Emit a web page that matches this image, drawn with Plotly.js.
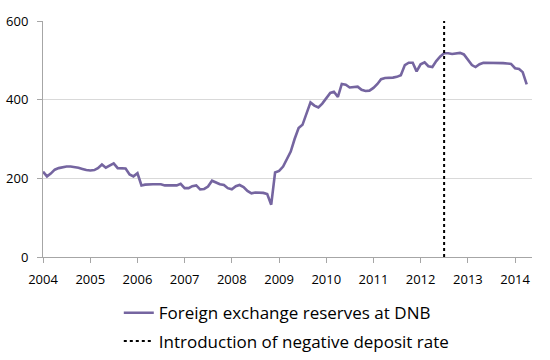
<!DOCTYPE html>
<html>
<head>
<meta charset="utf-8">
<script src="https://cdn.plot.ly/plotly-3.0.1.min.js"></script>
<style>html,body{margin:0;padding:0;background:#fff}#chart{width:550px;height:360px}</style>
</head>
<body>
<div id="chart"></div>
<script>
// Monthly foreign exchange reserves at DNB (bn DKK), Jan 2004 .. Apr 2014
const startYear = 2004;
const reserves2004 = [217, 205, 212, 222, 226, 229, 230, 230, 229, 227, 224, 221];
const reserves2005 = [220, 221, 226, 235, 227, 232, 238, 226, 226, 225, 210, 205];
const reserves2006 = [213, 182, 184, 185, 185, 185, 185, 182, 182, 182, 182, 186];
const reserves2007 = [175, 175, 180, 182, 172, 173, 179, 194, 189, 185, 183, 175];
const reserves2008 = [172, 180, 183, 178, 168, 162, 164, 164, 163, 160, 133, 215];
const reserves2009 = [219, 230, 248, 268, 300, 328, 336, 365, 393, 385, 380, 390];
const reserves2010 = [405, 417, 420, 407, 440, 438, 431, 432, 433, 425, 422, 423];
const reserves2011 = [430, 440, 452, 455, 455, 456, 458, 462, 488, 494, 494, 472];
const reserves2012 = [490, 495, 485, 483, 498, 510, 518, 518, 516, 517, 519, 515];
const reserves2013 = [502, 488, 483, 490, 494, 494, 494, 494, 494, 493, 492, 491];
const reserves2014 = [480, 478, 470, 439];
const negRateDate = '2012-07-01';
const negRateYRange = [0, 600];
const seriesName = 'Foreign exchange reserves at DNB';
const markerName = 'Introduction of negative deposit rate';
const yTicks = [0, 200, 400, 600];

const values = [].concat(reserves2004, reserves2005, reserves2006, reserves2007,
  reserves2008, reserves2009, reserves2010, reserves2011, reserves2012, reserves2013, reserves2014);
const dates = values.map((v, i) => {
  const y = startYear + Math.floor(i / 12);
  const m = (i % 12) + 1;
  return y + '-' + String(m).padStart(2, '0') + '-01';
});

const font = "'Open Sans', 'Liberation Sans', sans-serif";

const traces = [
  {
    x: dates, y: values, type: 'scatter', mode: 'lines', name: seriesName,
    line: {color: '#7565a0', width: 2.6}, legend: 'legend', hoverinfo: 'skip'
  },
  {
    x: [negRateDate, negRateDate], y: negRateYRange, type: 'scatter', mode: 'lines', name: markerName,
    line: {color: '#000000', width: 2, dash: 'dot'}, legend: 'legend2', hoverinfo: 'skip'
  }
];

const layout = {
  width: 550, height: 360,
  margin: {l: 43, r: 18, t: 21, b: 103, autoexpand: false},
  paper_bgcolor: '#ffffff', plot_bgcolor: '#ffffff',
  font: {family: font, size: 13, color: '#000000'},
  showlegend: true,
  xaxis: {
    type: 'date',
    range: ['2004-01-01', '2014-05-12'],
    tick0: '2004-01-01', dtick: 'M12', tickformat: '%Y',
    showgrid: false, zeroline: false,
    showline: true, linecolor: '#a6a6a6', linewidth: 1,
    ticks: 'outside', ticklen: 5, tickcolor: '#a6a6a6',
    ticklabelstandoff: 5,
    tickfont: {family: font, size: 13, color: '#000000'}
  },
  yaxis: {
    range: [0, 600], tickvals: yTicks,
    showgrid: true, gridcolor: '#d9d9d9', gridwidth: 1,
    zeroline: false,
    showline: true, linecolor: '#a6a6a6', linewidth: 1,
    ticks: 'outside', ticklen: 5, tickcolor: '#a6a6a6',
    ticklabelstandoff: 6,
    tickfont: {family: font, size: 13, color: '#000000'}
  },
  legend: {
    x: 0.155, y: -0.162, xanchor: 'left', yanchor: 'top',
    font: {family: font, size: 17, color: '#000000'},
    bgcolor: 'rgba(0,0,0,0)', borderwidth: 0
  },
  legend2: {
    x: 0.155, y: -0.282, xanchor: 'left', yanchor: 'top',
    font: {family: font, size: 17, color: '#000000'},
    bgcolor: 'rgba(0,0,0,0)', borderwidth: 0
  }
};

Plotly.newPlot('chart', traces, layout, {displayModeBar: false, staticPlot: true});
</script>
</body>
</html>
